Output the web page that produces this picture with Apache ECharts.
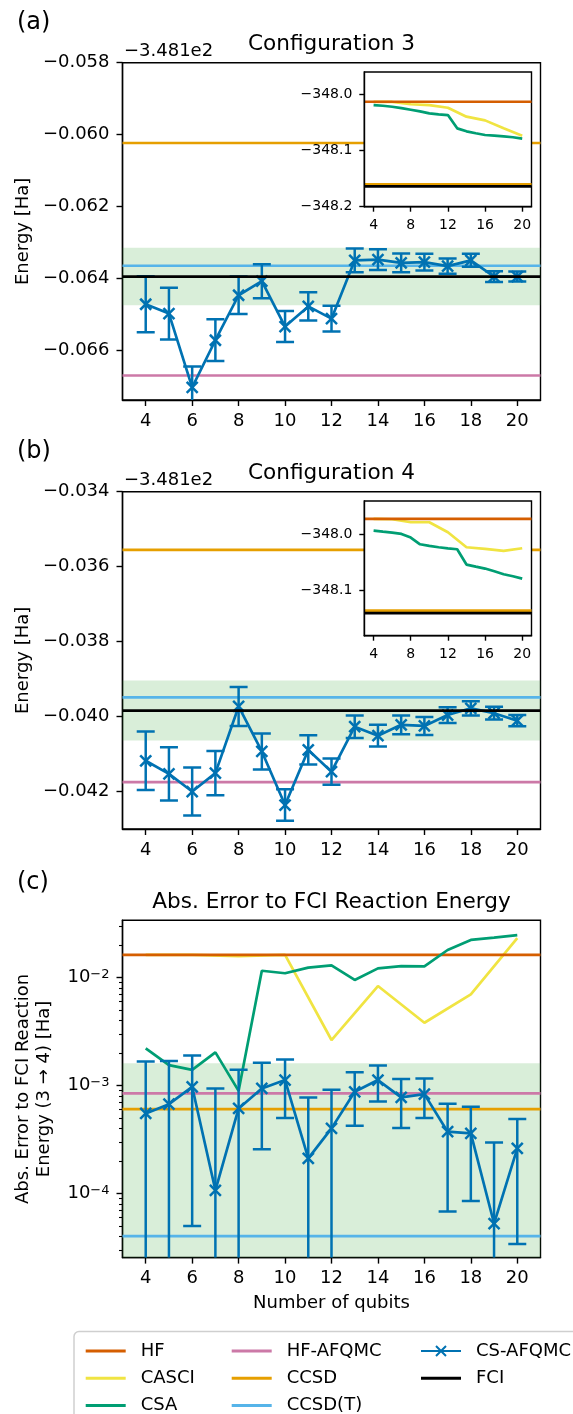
<!DOCTYPE html>
<html><head><meta charset="utf-8">
<script src="https://cdn.jsdelivr.net/npm/echarts@6/dist/echarts.min.js"></script>
<style>html,body{margin:0;padding:0;background:#fff}#c{width:573px;height:1414px}</style>
</head><body><div id="c"></div>
<script>
// ---------------- data ----------------
const qubits = [4,5,6,7,8,9,10,11,12,13,14,15,16,17,18,19,20];
const casciQubits = [4,6,8,10,12,14,16,18,20];
const xTicks = [4,6,8,10,12,14,16,18,20];
const insetXTicks = [4,8,12,16,20];
const X_LIM = [3, 21];
const OFFSET = -348.1;          // matplotlib offset text "−3.481e2"
const OFFSET_LABEL = '\u22123.481e2';
const CHEM_ACC = 0.0016;

// Configuration 3 (absolute energies, Ha)
const csafqmc3 = [-348.16471,-348.16497,-348.16702,-348.16571,-348.16446,-348.16407,-348.16533,-348.16477,-348.16511,-348.16349,-348.16347,-348.16356,-348.16354,-348.16365,-348.16349,-348.16394,-348.16394];
const csafqmc3Err = [0.00078,0.00072,0.00058,0.00058,0.00052,0.00047,0.00043,0.00039,0.00036,0.00033,0.00029,0.00026,0.00023,0.00021,0.00018,0.00015,0.00014];
const casci3 = [-348.0132,-348.0134,-348.0175,-348.0190,-348.0237,-348.0396,-348.0462,-348.0604,-348.0734];
const csa3 = [-348.0189,-348.0201,-348.0219,-348.0243,-348.0272,-348.0302,-348.0337,-348.0355,-348.0367,-348.0604,-348.0657,-348.0692,-348.0722,-348.0734,-348.0746,-348.0763,-348.0787];
const hf3 = -348.0130, ccsd3 = -348.16023, ccsdt3 = -348.16364, hfafqmc3 = -348.16669, fci3 = -348.16394;

// Configuration 4
const csafqmc4 = [-348.14118,-348.14153,-348.14200,-348.14151,-348.13973,-348.14093,-348.14236,-348.14089,-348.14147,-348.14027,-348.14051,-348.14022,-348.14025,-348.13996,-348.13978,-348.13991,-348.14011];
const csafqmc4Err = [0.00078,0.00071,0.00064,0.00059,0.00052,0.00048,0.00042,0.00039,0.00035,0.00030,0.00029,0.00025,0.00024,0.00021,0.00019,0.00017,0.00015];
const casci4 = [-347.9728,-347.9734,-347.9787,-347.9787,-347.9964,-348.0231,-348.0260,-348.0296,-348.0249];
const csa4 = [-347.9935,-347.9953,-347.9970,-347.9994,-348.0059,-348.0178,-348.0207,-348.0231,-348.0249,-348.0266,-348.0538,-348.0574,-348.0609,-348.0657,-348.0710,-348.0746,-348.0787];
const hf4 = -347.9728, ccsd4 = -348.13555, ccsdt4 = -348.13949, hfafqmc4 = -348.14175, fci4 = -348.13984;

// Abs. error to FCI reaction energy (3 -> 4), Ha
const csafqmcRxn = [5.5e-4,6.7e-4,9.7e-4,1.07e-4,6.12e-4,9.37e-4,1.12e-3,2.11e-4,4.0e-4,8.73e-4,1.12e-3,7.74e-4,8.3e-4,3.73e-4,3.6e-4,5.27e-5,2.61e-4];
const csafqmcRxnErr = [1.11e-3,1.01e-3,9.2e-4,8.3e-4,7.8e-4,6.8e-4,6.2e-4,5.6e-4,5.1e-4,4.5e-4,4.1e-4,3.7e-4,3.3e-4,3.05e-4,2.75e-4,2.44e-4,2.27e-4];
const casciRxn = [0.0161,0.0161,0.0157,0.0161,0.00263,0.00831,0.0038,0.00696,0.023];
const csaRxn = [2.2e-3,1.54e-3,1.39e-3,2.02e-3,8.9e-4,1.15e-2,1.09e-2,1.23e-2,1.29e-2,9.45e-3,1.21e-2,1.27e-2,1.26e-2,1.79e-2,2.22e-2,2.33e-2,2.46e-2];
const hfRxn = 0.0161, hfafqmcRxn = 8.44e-4, ccsdRxn = 6.04e-4, ccsdtRxn = 4.03e-5;

// axis ticks / limits
const yTicks3 = [-0.066,-0.064,-0.062,-0.060,-0.058];
const yTicks4 = [-0.042,-0.040,-0.038,-0.036,-0.034];
const insetYTicks3 = [-348.2,-348.1,-348.0];
const insetYTicks4 = [-348.1,-348.0];
const errDecades = [-4,-3,-2];
const yLim3 = [-0.06737, -0.058], yLim4 = [-0.043, -0.034];
const insetYLim3 = [-348.2, -347.96], insetYLim4 = [-348.18, -347.941];
const errLim = [2.55e-5, 3.37e-2];

// ---------------- styling ----------------
const FONT = 'DejaVu Sans';
const C = {HF:'#D55E00', CASCI:'#F0E442', CSA:'#009E73', HFAFQMC:'#CC79A7', CCSD:'#E69F00', CCSDT:'#56B4E9', CS:'#0072B2', FCI:'#000000'};
const BAND = 'rgba(44,160,44,0.18)';
const LW = 2.7;
const MAIN_LEFT = 122.5, MAIN_W = 418, MAIN_H = 337.3, MAIN_TOPS = [62.7, 491.7, 920.3];
const IN_LEFT = 364.3, IN_W = 167.2, IN_H = 134.7, IN_TOPS = [72, 501];
const log10 = Math.log10;
const LOG_MIN = log10(errLim[0]), LOG_MAX = log10(errLim[1]);

const minorTicks = [];
for (let d = -5; d <= -1; d++) for (let k = 2; k <= 9; k++) {
  const v = log10(k) + d; if (v > LOG_MIN && v < LOG_MAX) minorTicks.push(v);
}

const axisLineS = {show:true, onZero:false, lineStyle:{color:'#000', width:1.4}};
function xAxisMain(gi) {
  return {type:'value', gridIndex:gi, min:X_LIM[0], max:X_LIM[1], axisLine:axisLineS,
    axisTick:{show:true, customValues:xTicks, length:6, lineStyle:{color:'#000', width:1.4}},
    axisLabel:{customValues:xTicks, fontSize:18, fontFamily:FONT, color:'#000', margin:12},
    splitLine:{show:false}};
}
function xAxisInset(gi) {
  return {type:'value', gridIndex:gi, min:X_LIM[0], max:X_LIM[1], z:12, axisLine:axisLineS,
    axisTick:{show:true, customValues:insetXTicks, length:5, lineStyle:{color:'#000', width:1.4}},
    axisLabel:{customValues:insetXTicks, fontSize:14, fontFamily:FONT, color:'#000', margin:12},
    splitLine:{show:false}};
}
function yAxisLin(gi, lim, ticks, dec, fs, z, margin) {
  return {type:'value', gridIndex:gi, min:lim[0], max:lim[1], position:'left', z:z, axisLine:axisLineS,
    axisTick:{show:true, customValues:ticks, length:z ? 5 : 6, lineStyle:{color:'#000', width:1.4}},
    axisLabel:{customValues:ticks, fontSize:fs, fontFamily:FONT, color:'#000', margin:margin,
      formatter: v => (v < 0 ? '\u2212' : '') + Math.abs(v).toFixed(dec)},
    splitLine:{show:false}};
}

function hline(name, color, value, xi, yi, z) {
  return {type:'line', name:name, xAxisIndex:xi, yAxisIndex:yi, z:z||2, symbol:'none', showSymbol:false,
    color:color, itemStyle:{color:color}, lineStyle:{color:color, width:LW}, emphasis:{disabled:true},
    data:[[X_LIM[0], value],[X_LIM[1], value]]};
}
function band(lo, hi, xi, yi) {
  return {type:'line', name:'band', xAxisIndex:xi, yAxisIndex:yi, data:[], z:1,
    markArea:{silent:true, itemStyle:{color:BAND}, emphasis:{disabled:true}, data:[[{yAxis:lo},{yAxis:hi}]]}};
}
function curve(name, color, xs, ys, xi, yi, z) {
  return {type:'line', name:name, xAxisIndex:xi, yAxisIndex:yi, z:z||2, symbol:'none', showSymbol:false,
    color:color, itemStyle:{color:color}, lineStyle:{color:color, width:LW}, emphasis:{disabled:true},
    data: xs.map((x,i)=>[x, ys[i]])};
}
function errRender(params, api) {
  const x = api.value(0), y = api.value(1), lo = api.value(2), hi = api.value(3);
  const p = api.coord([x,y]), pl = api.coord([x,lo]), ph = api.coord([x,hi]);
  const cw = 9, m = 5.5;
  const st = {stroke:C.CS, lineWidth:2.5, fill:null};
  const seg = (x1,y1,x2,y2) => ({type:'line', shape:{x1,y1,x2,y2}, style:st});
  return {type:'group', children:[
    seg(p[0],pl[1],p[0],ph[1]),
    seg(p[0]-cw,pl[1],p[0]+cw,pl[1]),
    seg(p[0]-cw,ph[1],p[0]+cw,ph[1]),
    seg(p[0]-m,p[1]-m,p[0]+m,p[1]+m),
    seg(p[0]-m,p[1]+m,p[0]+m,p[1]-m)]};
}
function csSeries(ys, errs, xi, yi, tf) {
  const t = tf || (v => v);
  return [
    {type:'line', name:'CS-AFQMC', xAxisIndex:xi, yAxisIndex:yi, z:3, symbol:'none', showSymbol:false,
      color:C.CS, itemStyle:{color:C.CS}, lineStyle:{color:C.CS, width:LW}, emphasis:{disabled:true},
      data: qubits.map((q,i)=>[q, t(ys[i])])},
    {type:'custom', name:'CS-AFQMC', xAxisIndex:xi, yAxisIndex:yi, z:3, clip:true, renderItem:errRender,
      encode:{x:0, y:1}, color:C.CS,
      data: qubits.map((q,i)=>[q, t(ys[i]), t(ys[i]-errs[i]), t(ys[i]+errs[i])])}
  ];
}
const off = v => v - OFFSET;
const offArr = a => a.map(off);
const logSafe = v => v > 0 ? log10(v) : LOG_MIN - 1;

const grids = [
  {left:MAIN_LEFT, top:MAIN_TOPS[0], width:MAIN_W, height:MAIN_H, show:true, borderColor:'#000', borderWidth:1.4, backgroundColor:'transparent', z:0},
  {left:IN_LEFT, top:IN_TOPS[0], width:IN_W, height:IN_H, show:true, borderColor:'#000', borderWidth:1.4, backgroundColor:'#fff', z:10},
  {left:MAIN_LEFT, top:MAIN_TOPS[1], width:MAIN_W, height:MAIN_H, show:true, borderColor:'#000', borderWidth:1.4, backgroundColor:'transparent', z:0},
  {left:IN_LEFT, top:IN_TOPS[1], width:IN_W, height:IN_H, show:true, borderColor:'#000', borderWidth:1.4, backgroundColor:'#fff', z:10},
  {left:MAIN_LEFT, top:MAIN_TOPS[2], width:MAIN_W, height:MAIN_H, show:true, borderColor:'#000', borderWidth:1.4, backgroundColor:'transparent', z:0}
];
const xAxes = [xAxisMain(0), xAxisInset(1), xAxisMain(2), xAxisInset(3), xAxisMain(4)];
const yAxes = [
  yAxisLin(0, yLim3, yTicks3, 3, 18, 0, 13),
  yAxisLin(1, insetYLim3, insetYTicks3, 1, 14, 12, 12),
  yAxisLin(2, yLim4, yTicks4, 3, 18, 0, 13),
  yAxisLin(3, insetYLim4, insetYTicks4, 1, 14, 12, 12),
  {type:'value', gridIndex:4, min:LOG_MIN, max:LOG_MAX, position:'left', axisLine:axisLineS,
    axisTick:{show:true, customValues:errDecades, length:6, lineStyle:{color:'#000', width:1.4}},
    axisLabel:{customValues:errDecades, margin:13, color:'#000',
      formatter: v => '{b|10}{s|\u2212' + Math.abs(Math.round(v)) + '}',
      rich:{b:{fontSize:18, fontFamily:FONT, color:'#000'}, s:{fontSize:13, fontFamily:FONT, color:'#000', verticalAlign:'top'}}},
    splitLine:{show:false}},
  {type:'value', gridIndex:4, min:LOG_MIN, max:LOG_MAX, position:'left', axisLine:{show:false},
    axisTick:{show:true, customValues:minorTicks, length:3.5, lineStyle:{color:'#000', width:1.1}},
    axisLabel:{show:false}, splitLine:{show:false}}
];

const series = [
  // (a) main
  band(off(fci3) - CHEM_ACC/2, off(fci3) + CHEM_ACC/2, 0, 0),
  hline('HF-AFQMC', C.HFAFQMC, off(hfafqmc3), 0, 0),
  hline('CCSD', C.CCSD, off(ccsd3), 0, 0),
  hline('CCSD(T)', C.CCSDT, off(ccsdt3), 0, 0),
  ...csSeries(offArr(csafqmc3), csafqmc3Err, 0, 0),
  hline('FCI', C.FCI, off(fci3), 0, 0, 4),
  // (a) inset
  curve('CASCI', C.CASCI, casciQubits, casci3, 1, 1, 11),
  hline('HF', C.HF, hf3, 1, 1, 11),
  curve('CSA', C.CSA, qubits, csa3, 1, 1, 11),
  hline('CCSD', C.CCSD, ccsd3, 1, 1, 11),
  hline('FCI', C.FCI, fci3, 1, 1, 11),
  // (b) main
  band(off(fci4) - CHEM_ACC/2, off(fci4) + CHEM_ACC/2, 2, 2),
  hline('HF-AFQMC', C.HFAFQMC, off(hfafqmc4), 2, 2),
  hline('CCSD', C.CCSD, off(ccsd4), 2, 2),
  hline('CCSD(T)', C.CCSDT, off(ccsdt4), 2, 2),
  ...csSeries(offArr(csafqmc4), csafqmc4Err, 2, 2),
  hline('FCI', C.FCI, off(fci4), 2, 2, 4),
  // (b) inset
  curve('CASCI', C.CASCI, casciQubits, casci4, 3, 3, 11),
  hline('HF', C.HF, hf4, 3, 3, 11),
  curve('CSA', C.CSA, qubits, csa4, 3, 3, 11),
  hline('CCSD', C.CCSD, ccsd4, 3, 3, 11),
  hline('FCI', C.FCI, fci4, 3, 3, 11),
  // (c)
  band(LOG_MIN, log10(CHEM_ACC), 4, 4),
  curve('CASCI', C.CASCI, casciQubits, casciRxn.map(log10), 4, 4),
  hline('HF', C.HF, log10(hfRxn), 4, 4),
  curve('CSA', C.CSA, qubits, csaRxn.map(log10), 4, 4),
  hline('HF-AFQMC', C.HFAFQMC, log10(hfafqmcRxn), 4, 4),
  hline('CCSD', C.CCSD, log10(ccsdRxn), 4, 4),
  hline('CCSD(T)', C.CCSDT, log10(ccsdtRxn), 4, 4),
  ...csSeries(csafqmcRxn, csafqmcRxnErr, 4, 4, logSafe)
];

// legend: one component per entry (3 columns x 3 rows)
const legText = {fontSize:18, fontFamily:FONT, color:'#000', lineHeight:20, padding:[0,0,0,10]};
const csIcon = 'path://M0,5 L40,5 L40,7 L0,7 Z M15.7,0.3 L25.7,10.3 L24.3,11.7 L14.3,1.7 Z M24.3,0.3 L25.7,1.7 L15.7,11.7 L14.3,10.3 Z';
const legendCols = [80.7, 226.7, 416];
const legendRows = [1346, 1373.3, 1400.6];
const legendEntries = [
  ['HF',0,0], ['CASCI',0,1], ['CSA',0,2],
  ['HF-AFQMC',1,0], ['CCSD',1,1], ['CCSD(T)',1,2],
  ['CS-AFQMC',2,0], ['FCI',2,1]
];
const legends = legendEntries.map(([n,c,r]) => ({
  orient:'vertical', left:legendCols[c], top:legendRows[r]-10, itemWidth:40,
  itemHeight: n === 'CS-AFQMC' ? 12 : 3, icon: n === 'CS-AFQMC' ? csIcon : 'rect',
  selectedMode:false, textStyle:legText, z:5, data:[n]}));

function txt(text, x, y, fs, align, rot) {
  return {type:'text', x:x, y:y, rotation:rot||0, z:20,
    style:{text:text, fontSize:fs, fontFamily:FONT, fill:'#000', align:align||'center', textAlign:align||'center',
      verticalAlign:'middle', textVerticalAlign:'middle'}};
}
const cx = MAIN_LEFT + MAIN_W/2;
const graphics = [
  {type:'rect', z:0, shape:{x:74, y:1331.5, width:560, height:120, r:5}, style:{fill:'#fff', stroke:'#cfcfcf', lineWidth:1.5}},
  txt('(a)', 17, MAIN_TOPS[0]-39.5, 24, 'left'),
  txt('(b)', 17, MAIN_TOPS[1]-39.5, 24, 'left'),
  txt('(c)', 17, MAIN_TOPS[2]-38, 24, 'left'),
  txt('Configuration 3', cx, MAIN_TOPS[0]-18.4, 21.6),
  txt('Configuration 4', cx, MAIN_TOPS[1]-18.4, 21.6),
  txt('Abs. Error to FCI Reaction Energy', cx, MAIN_TOPS[2]-18.2, 21.6),
  txt(OFFSET_LABEL, 124, MAIN_TOPS[0]-11.5, 18, 'left'),
  txt(OFFSET_LABEL, 124, MAIN_TOPS[1]-11.8, 18, 'left'),
  txt('Energy [Ha]', 23, MAIN_TOPS[0]+MAIN_H/2, 18, 'center', Math.PI/2),
  txt('Energy [Ha]', 23, MAIN_TOPS[1]+MAIN_H/2, 18, 'center', Math.PI/2),
  {type:'text', x:34.3, y:MAIN_TOPS[2]+MAIN_H/2, rotation:Math.PI/2, z:20,
    style:{text:'Abs. Error to FCI Reaction\nEnergy (3 \u2192 4) [Ha]', fontSize:18, fontFamily:FONT, fill:'#000', lineHeight:21,
      align:'center', textAlign:'center', verticalAlign:'middle', textVerticalAlign:'middle'}},
  txt('Number of qubits', cx, 1303.5, 18)
];

const chart = echarts.init(document.getElementById('c'), null, {renderer:'canvas'});
chart.setOption({
  animation:false,
  textStyle:{fontFamily:FONT},
  grid:grids, xAxis:xAxes, yAxis:yAxes, series:series, legend:legends, graphic:graphics
});
</script></body></html>
